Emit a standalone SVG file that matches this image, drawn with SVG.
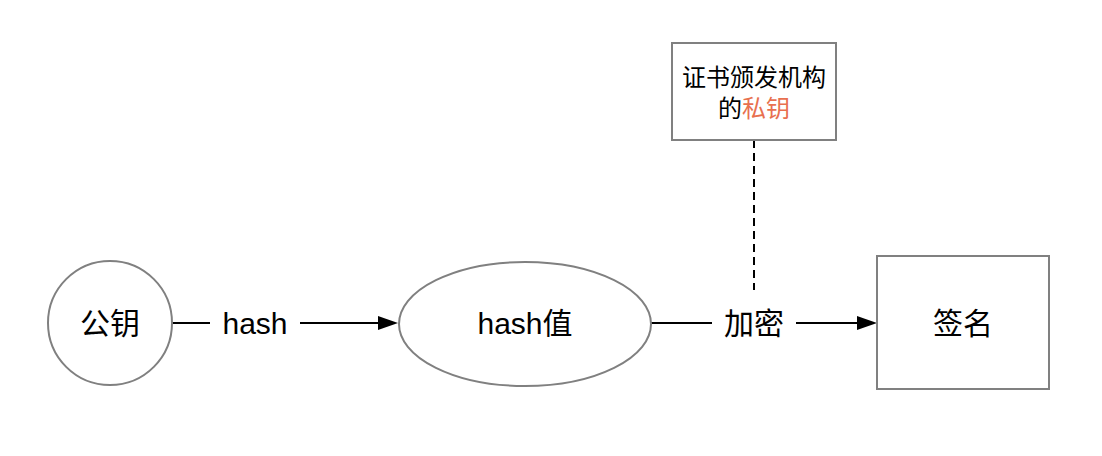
<svg xmlns="http://www.w3.org/2000/svg" width="1102" height="456" viewBox="0 0 1102 456">
<style>
.node{fill:#fff;stroke:#808080;stroke-width:2}
.t{font-family:"Liberation Sans","Noto Sans CJK SC",sans-serif;font-size:30px;fill:#000;text-anchor:middle;dominant-baseline:central}
.s{font-family:"Liberation Sans","Noto Sans CJK SC",sans-serif;font-size:24px;fill:#000;text-anchor:middle;dominant-baseline:central}
.e{stroke:#000;stroke-width:2;fill:none}
</style>
<rect width="1102" height="456" fill="#fff"/>
<g id="connectors">
<line class="e" x1="172" y1="323" x2="210" y2="323"/>
<text class="t" x="255" y="323">hash</text>
<path class="e" d="M300,323 L378,323"/>
<path d="M378,316 L398,323 L378,330 Z" fill="#000"/>
<line class="e" x1="651" y1="323" x2="712" y2="323"/>
<text class="t" x="754" y="323">加密</text>
<path class="e" d="M796,323 L857,323"/>
<path d="M857,316 L877,323 L857,330 Z" fill="#000"/>
<line class="e" x1="754" y1="140" x2="754" y2="290" stroke-dasharray="8 5"/>
</g>
<g id="pubkey">
<circle class="node" cx="110" cy="323" r="62"/>
<text class="t" x="110" y="323">公钥</text>
</g>
<g id="hashval">
<ellipse class="node" cx="525" cy="324" rx="126" ry="62"/>
<text class="t" x="525" y="323">hash值</text>
</g>
<g id="sign">
<rect class="node" x="877" y="256" width="172" height="133"/>
<text class="t" x="963" y="323">签名</text>
</g>
<g id="ca">
<rect class="node" x="672" y="43" width="164" height="97"/>
<text class="s" x="754" y="77">证书颁发机构</text>
<text class="s" x="754" y="108">的<tspan fill="#E8704F">私钥</tspan></text>
</g>
</svg>
